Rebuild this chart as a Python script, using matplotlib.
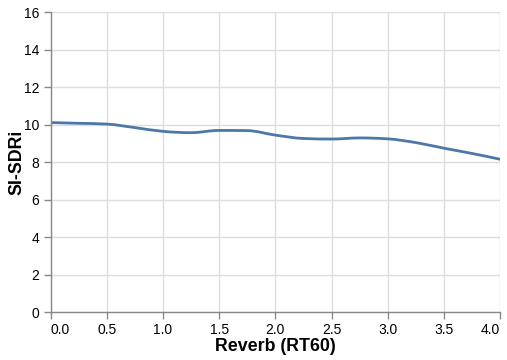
import matplotlib

matplotlib.use("Agg")
import matplotlib.pyplot as plt
from matplotlib.path import Path
from matplotlib.patches import PathPatch

plt.rcParams["font.family"] = ["Liberation Sans", "DejaVu Sans"]

reverb = [0.0, 0.25, 0.5, 0.75, 1.0, 1.25, 1.5, 1.75, 2.0, 2.25, 2.5, 2.75, 3.0, 3.25, 3.5, 3.75, 4.0]
si_sdri = [10.12, 10.08, 10.04, 9.85, 9.65, 9.58, 9.70, 9.69, 9.45, 9.27, 9.24, 9.30, 9.25, 9.05, 8.75, 8.47, 8.16]

x_ticks = [0.0, 0.5, 1.0, 1.5, 2.0, 2.5, 3.0, 3.5, 4.0]
y_ticks = [0, 2, 4, 6, 8, 10, 12, 14, 16]


def monotone_path(xs, ys):
    # d3 curveMonotoneX style: cubic Bezier segments through the points
    n = len(xs)
    d = [(ys[i + 1] - ys[i]) / (xs[i + 1] - xs[i]) for i in range(n - 1)]
    t = [0.0] * n
    for i in range(1, n - 1):
        if d[i - 1] * d[i] <= 0:
            continue
        h0 = xs[i] - xs[i - 1]
        h1 = xs[i + 1] - xs[i]
        p = (d[i - 1] * h1 + d[i] * h0) / (h0 + h1)
        s = 1 if d[i - 1] > 0 else -1
        t[i] = s * min(abs(d[i - 1]), abs(d[i]), 0.5 * abs(p)) * 2
    t[0] = (3 * d[0] - t[1]) / 2
    t[-1] = (3 * d[-1] - t[-2]) / 2
    verts = [(xs[0], ys[0])]
    codes = [Path.MOVETO]
    for i in range(n - 1):
        h = (xs[i + 1] - xs[i]) / 3
        verts += [(xs[i] + h, ys[i] + h * t[i]),
                  (xs[i + 1] - h, ys[i + 1] - h * t[i + 1]),
                  (xs[i + 1], ys[i + 1])]
        codes += [Path.CURVE4] * 3
    return Path(verts, codes)


fig = plt.figure(figsize=(5.07, 3.6), dpi=100)
ax = fig.add_axes([50.5 / 507, 47.7 / 360, 449.8 / 507, 300 / 360])

ax.add_patch(PathPatch(monotone_path(reverb, si_sdri), facecolor="none",
                       edgecolor="#4c78a8", linewidth=2, capstyle="butt"))

ax.set_xlim(0, 4)
ax.set_ylim(0, 16)
ax.set_xticks(x_ticks)
ax.set_yticks(y_ticks)
ax.set_xticklabels([f"{v:.1f}" for v in x_ticks])
ax.set_yticklabels([str(v) for v in y_ticks])

ax.grid(True, color="#dddddd", linewidth=1)
ax.set_axisbelow(True)
for side in ["top", "right"]:
    ax.spines[side].set_visible(False)
for side in ["left", "bottom"]:
    ax.spines[side].set_color("#888888")
    ax.spines[side].set_linewidth(1)

ax.tick_params(axis="both", length=5, width=1, color="#888888", labelsize=10, labelcolor="#000000")
ax.tick_params(axis="x", pad=3)
ax.tick_params(axis="y", pad=3)

labels = ax.get_xticklabels()
labels[0].set_ha("left")
labels[-1].set_ha("right")

ax.set_xlabel("Reverb (RT60)", fontsize=12.8, fontweight="bold")
ax.set_ylabel("SI-SDRi", fontsize=12.8, fontweight="bold")
ax.xaxis.set_label_coords(0.5, -26 / 300)
ax.yaxis.set_label_coords(-25.5 / 449.8, 0.5)

fig.savefig("out.png", dpi=100)
plt.close(fig)
